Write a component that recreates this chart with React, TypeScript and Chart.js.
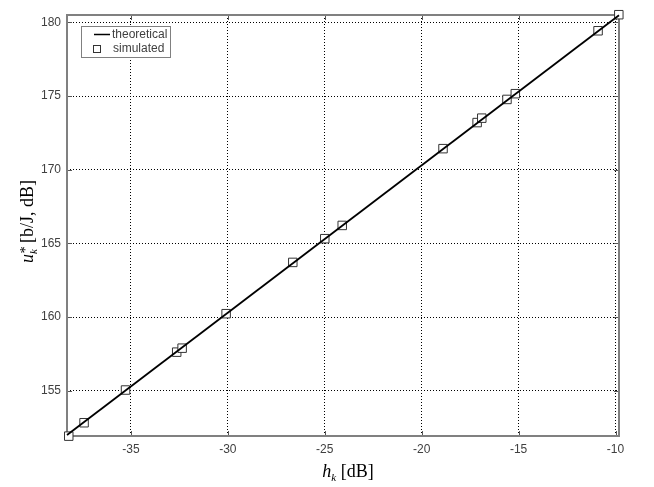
import React, { useEffect, useRef } from "react";
import { Chart, registerables } from "chart.js";

Chart.register(...registerables);

const xTicks = [-35, -30, -25, -20, -15, -10];
const yTicks = [155, 160, 165, 170, 175, 180];
const xRange = [-38.3, -9.82];
const yRange = [151.93, 180.5];
const theoryH = [-38.3, -9.82];
const theoryU = [152.0, 180.48];
const simH = [-38.21, -37.42, -35.28, -32.64, -32.36, -30.09, -26.65, -25.0, -24.1, -18.9, -17.14, -16.9, -15.6, -15.17, -10.9, -9.83];
const simU = [151.92, 152.83, 155.05, 157.62, 157.89, 160.23, 163.71, 165.32, 166.22, 171.43, 173.2, 173.5, 174.77, 175.16, 179.43, 180.52];
const seriesNames = ["theoretical", "simulated"];
const xTitle = { main: "h", sub: "k", rest: " [dB]" };
const yTitle = { main: "u", sup: "*", sub: "k", rest: " [b/J, dB]" };

const SERIF = '"Liberation Serif", "Times New Roman", serif';
const SANS = '"Liberation Sans", Arial, sans-serif';

const matlabPlugin = {
  id: "matlabDecor",
  beforeDatasetsDraw(chart: any) {
    const { ctx, chartArea: a, scales } = chart;
    ctx.save();
    ctx.strokeStyle = "#555";
    ctx.lineWidth = 1;
    const seg = (x1: number, y1: number, x2: number, y2: number) => {
      ctx.beginPath();
      ctx.moveTo(x1, y1);
      ctx.lineTo(x2, y2);
      ctx.stroke();
    };
    xTicks.forEach((v) => {
      const x = Math.round(scales.x.getPixelForValue(v)) + 0.5;
      seg(x, a.bottom, x, a.bottom - 5);
      seg(x, a.top, x, a.top + 5);
    });
    yTicks.forEach((v) => {
      const y = Math.round(scales.y.getPixelForValue(v)) + 0.5;
      seg(a.left, y, a.left + 5, y);
      seg(a.right, y, a.right - 5, y);
    });
    ctx.strokeStyle = "#808080";
    ctx.lineWidth = 2;
    ctx.strokeRect(a.left, a.top, a.right - a.left, a.bottom - a.top);
    ctx.restore();
  },
  afterDatasetsDraw(chart: any) {
    const { ctx } = chart;
    ctx.save();
    const bx = 81, by = 26, bw = 89, bh = 31;
    ctx.fillStyle = "#fff";
    ctx.fillRect(bx, by, bw, bh);
    ctx.strokeStyle = "#808080";
    ctx.lineWidth = 1;
    ctx.strokeRect(bx + 0.5, by + 0.5, bw, bh);
    ctx.font = "12px " + SANS;
    ctx.fillStyle = "#404040";
    ctx.textBaseline = "middle";
    ctx.textAlign = "left";
    ctx.strokeStyle = "#000";
    ctx.lineWidth = 1.5;
    ctx.beginPath();
    ctx.moveTo(94, 34.5);
    ctx.lineTo(110, 34.5);
    ctx.stroke();
    ctx.fillText(seriesNames[0], 112, 34.5);
    ctx.strokeStyle = "#333";
    ctx.lineWidth = 1;
    ctx.strokeRect(93.5, 45.5, 7, 7);
    ctx.fillText(seriesNames[1], 113, 49);
    ctx.restore();
  },
  afterDraw(chart: any) {
    const { ctx } = chart;
    ctx.save();
    ctx.fillStyle = "#000";
    ctx.textBaseline = "alphabetic";
    ctx.textAlign = "left";
    const big = "18px " + SERIF;
    const ibig = "italic 18px " + SERIF;
    const ismall = "italic 11px " + SERIF;
    ctx.font = ibig;
    const w1 = ctx.measureText(xTitle.main).width;
    ctx.font = ismall;
    const w2 = ctx.measureText(xTitle.sub).width;
    ctx.font = big;
    const w3 = ctx.measureText(xTitle.rest).width;
    let x = 348 - (w1 + w2 + w3) / 2;
    const yb = 477;
    ctx.font = ibig;
    ctx.fillText(xTitle.main, x, yb);
    x += w1;
    ctx.font = ismall;
    ctx.fillText(xTitle.sub, x, yb + 4);
    x += w2;
    ctx.font = big;
    ctx.fillText(xTitle.rest, x, yb);
    ctx.translate(33, 222);
    ctx.rotate(-Math.PI / 2);
    ctx.font = ibig;
    const v1 = ctx.measureText(yTitle.main).width;
    ctx.font = ismall;
    const v2 = Math.max(ctx.measureText(yTitle.sub).width, ctx.measureText(yTitle.sup).width);
    ctx.font = big;
    const v3 = ctx.measureText(yTitle.rest).width;
    let p = -(v1 + v2 + v3) / 2;
    ctx.font = ibig;
    ctx.fillText(yTitle.main, p, 0);
    p += v1;
    ctx.font = "italic 14px " + SERIF;
    ctx.fillText(yTitle.sup, p, -3);
    ctx.font = ismall;
    ctx.fillText(yTitle.sub, p, 4);
    p += v2 + 1;
    ctx.font = big;
    ctx.fillText(yTitle.rest, p, 0);
    ctx.restore();
  },
};

export default function App() {
  const ref = useRef<HTMLCanvasElement | null>(null);
  useEffect(() => {
    if (!ref.current) return;
    const chart = new Chart(ref.current, {
      type: "scatter",
      data: {
        datasets: [
          {
            label: seriesNames[0],
            data: theoryH.map((h, i) => ({ x: h, y: theoryU[i] })),
            showLine: true,
            borderColor: "#000",
            borderWidth: 1.8,
            pointRadius: 0,
            clip: false as any,
          },
          {
            label: seriesNames[1],
            data: simH.map((h, i) => ({ x: h, y: simU[i] })),
            showLine: false,
            pointStyle: "rect",
            pointRadius: 6,
            pointBackgroundColor: "#fff",
            pointBorderColor: "#333",
            pointBorderWidth: 1,
            clip: false as any,
          },
        ],
      },
      options: {
        animation: false,
        responsive: false,
        events: [],
        layout: { padding: { left: 0, top: 15, right: 35, bottom: 0 } },
        plugins: { legend: { display: false }, tooltip: { enabled: false } },
        scales: {
          x: {
            type: "linear",
            min: xRange[0],
            max: xRange[1],
            afterBuildTicks: (s: any) => {
              s.ticks = xTicks.map((v) => ({ value: v }));
            },
            afterFit: (s: any) => {
              s.height = 51;
            },
            grid: { color: "#000", lineWidth: 1, drawTicks: false } as any,
            border: { display: false, dash: [1, 2] } as any,
            ticks: {
              padding: 6,
              color: "#404040",
              font: { family: SANS, size: 12 },
              maxRotation: 0,
              callback: (v: any) => String(v),
            },
          },
          y: {
            type: "linear",
            min: yRange[0],
            max: yRange[1],
            afterBuildTicks: (s: any) => {
              s.ticks = yTicks.map((v) => ({ value: v }));
            },
            afterFit: (s: any) => {
              s.width = 67;
            },
            grid: { color: "#000", lineWidth: 1, drawTicks: false } as any,
            border: { display: false, dash: [1, 2] } as any,
            ticks: {
              padding: 6,
              color: "#404040",
              font: { family: SANS, size: 12 },
              callback: (v: any) => String(v),
            },
          },
        },
      },
      plugins: [matlabPlugin],
    });
    return () => chart.destroy();
  }, []);
  return (
    <div style={{ position: "absolute", left: 0, top: 0, width: 654, height: 487, background: "#fff" }}>
      <canvas ref={ref} width={654} height={487} />
    </div>
  );
}
